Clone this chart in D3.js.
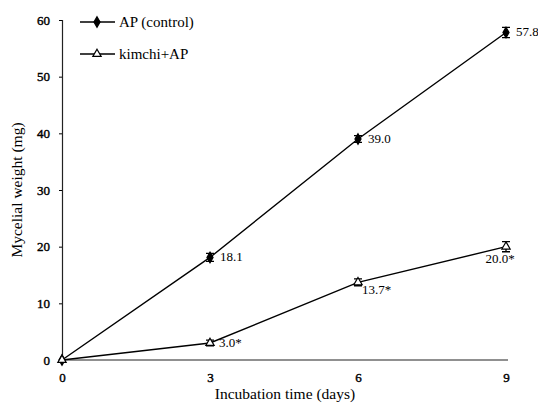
<!DOCTYPE html>
<html><head><meta charset="utf-8">
<script src="https://cdn.jsdelivr.net/npm/d3@7/dist/d3.min.js"></script>
<style>body{margin:0;background:#fff}svg{display:block}svg text{font-family:"Liberation Serif","Times New Roman",serif !important;fill:#000}</style>
</head><body><svg id="c" width="538" height="405"></svg>
<script>
const days = [0, 3, 6, 9];
const apControl = [0, 18.1, 39.0, 57.8];
const apErr = [0, 0.7, 0.6, 0.9];
const kimchiAP = [0, 3.0, 13.7, 20.0];
const kimchiErr = [0, 0.5, 0.6, 0.9];
const apLabels = ["", "18.1", "39.0", "57.8"];
const kimchiLabels = ["", "3.0*", "13.7*", "20.0*"];
const yTicks = [0, 10, 20, 30, 40, 50, 60];
const xTicks = [0, 3, 6, 9];

const svg = d3.select("#c");
const x = d3.scaleLinear().domain([0, 9]).range([62, 506]);
const y = d3.scaleLinear().domain([0, 60]).range([360, 20]);

// axes
const ya = svg.append("g").attr("transform", "translate(62,0)")
  .call(d3.axisLeft(y).tickValues(yTicks).tickSize(3).tickPadding(9));
ya.attr("font-family", null).attr("font-size", 13);
ya.selectAll("text").attr("stroke", "#000").attr("stroke-width", 0.4);
ya.select(".domain").attr("stroke", "#222").attr("stroke-width", 1.2);

const xa = svg.append("g").attr("transform", "translate(0,360)")
  .call(d3.axisBottom(x).tickValues(xTicks).tickSize(0).tickPadding(13));
xa.attr("font-family", null).attr("font-size", 13);
xa.selectAll("text").attr("stroke", "#000").attr("stroke-width", 0.4);
xa.select(".domain").attr("stroke", "#222").attr("stroke-width", 1.2).attr("d", "M62,0H508");

svg.append("text").attr("transform", "translate(22,190) rotate(-90)").attr("text-anchor", "middle")
  .style("font-size", "15.5px").text("Mycelial weight (mg)");
svg.append("text").attr("x", 285).attr("y", 399).attr("text-anchor", "middle")
  .style("font-size", "15.5px").text("Incubation time (days)");

const line = d3.line().x((d, i) => x(days[i])).y(d => y(d));
function series(vals, errs, marker) {
  svg.append("path").datum(vals).attr("d", line).attr("fill", "none").attr("stroke", "#000").attr("stroke-width", 1.4);
  const g = svg.append("g");
  vals.forEach((v, i) => {
    if (errs[i] > 0) {
      const cx = x(days[i]);
      g.append("path").attr("d", `M${cx},${y(v - errs[i])}V${y(v + errs[i])}M${cx - 4},${y(v + errs[i])}h8M${cx - 4},${y(v - errs[i])}h8`)
        .attr("stroke", "#000").attr("stroke-width", 1.3).attr("fill", "none");
    }
    g.append("path").attr("transform", `translate(${x(days[i])},${y(v)})`)
      .attr("d", marker === "diamond" ? d3.symbol(d3.symbolDiamond, 32)() : d3.symbol(d3.symbolTriangle, 30)())
      .attr("fill", marker === "diamond" ? "#000" : "#fff").attr("stroke", "#000").attr("stroke-width", 1.2);
  });
}
series(apControl, apErr, "diamond");
series(kimchiAP, kimchiErr, "triangle");

// value labels
const lab = svg.append("g").style("font-size", "13px");
[1, 2, 3].forEach(i => {
  lab.append("text").attr("x", x(days[i]) + 10).attr("y", y(apControl[i]) + 4).text(apLabels[i]);
});
lab.append("text").attr("x", x(3) + 9).attr("y", y(kimchiAP[1]) + 4).text(kimchiLabels[1]);
lab.append("text").attr("x", x(6) + 4).attr("y", y(kimchiAP[2]) + 12).text(kimchiLabels[2]);
lab.append("text").attr("x", x(9) - 6).attr("y", y(kimchiAP[3]) + 16).attr("text-anchor", "middle").text(kimchiLabels[3]);

// legend
const lg = svg.append("g");
[["AP (control)", "diamond", 22], ["kimchi+AP", "triangle", 54]].forEach(([t, m, ly]) => {
  lg.append("path").attr("d", `M80,${ly}H115`).attr("stroke", "#000").attr("stroke-width", 1.4);
  lg.append("path").attr("transform", `translate(97,${ly})`)
    .attr("d", m === "diamond" ? d3.symbol(d3.symbolDiamond, 32)() : d3.symbol(d3.symbolTriangle, 30)())
    .attr("fill", m === "diamond" ? "#000" : "#fff").attr("stroke", "#000").attr("stroke-width", 1.2);
  lg.append("text").attr("x", 119).attr("y", ly + 5).style("font-size", "15px").text(t);
});
</script></body></html>
